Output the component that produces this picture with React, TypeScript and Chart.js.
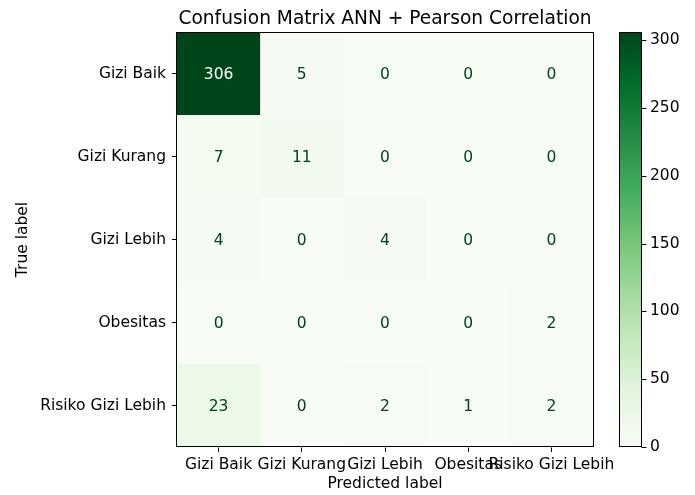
import React, { useEffect, useRef } from "react";
import { Chart, registerables } from "chart.js";

Chart.register(...registerables);

const predictedLabels = ["Gizi Baik", "Gizi Kurang", "Gizi Lebih", "Obesitas", "Risiko Gizi Lebih"];
const trueLabels = ["Gizi Baik", "Gizi Kurang", "Gizi Lebih", "Obesitas", "Risiko Gizi Lebih"];

const rowGiziBaik = [306, 5, 0, 0, 0];
const rowGiziKurang = [7, 11, 0, 0, 0];
const rowGiziLebih = [4, 0, 4, 0, 0];
const rowObesitas = [0, 0, 0, 0, 2];
const rowRisiko = [23, 0, 2, 1, 2];
const matrix = [rowGiziBaik, rowGiziKurang, rowGiziLebih, rowObesitas, rowRisiko];

const colorbarTicks = [0, 50, 100, 150, 200, 250, 300];
const titleText = "Confusion Matrix ANN + Pearson Correlation";

const greens = ["#f7fcf5", "#e5f5e0", "#c7e9c0", "#a1d99b", "#74c476", "#41ab5d", "#238b45", "#006d2c", "#00441b"];

const FONT = "DejaVu Sans";
const FS = 15.5;
const TITLE_FS = 18.6;

function hexToRgb(h: string) {
  return [parseInt(h.slice(1, 3), 16), parseInt(h.slice(3, 5), 16), parseInt(h.slice(5, 7), 16)];
}
function greensColor(t: number) {
  t = Math.max(0, Math.min(1, t));
  const p = t * (greens.length - 1);
  const i = Math.min(greens.length - 2, Math.floor(p));
  const f = p - i;
  const a = hexToRgb(greens[i]);
  const b = hexToRgb(greens[i + 1]);
  const c = a.map((v, k) => Math.round(v + (b[k] - v) * f));
  return `rgb(${c[0]},${c[1]},${c[2]})`;
}

export default function App() {
  const ref = useRef<HTMLCanvasElement>(null);
  useEffect(() => {
    const all = matrix.flat();
    const vmax = Math.max(...all);
    const vmin = Math.min(...all);
    const thresh = (vmax + vmin) / 2;
    const points: any[] = [];
    matrix.forEach((row, i) => row.forEach((v, j) => points.push({ x: j, y: i, v })));

    const plugin = {
      id: "matrix",
      beforeDatasetsDraw(chart: any) {
        const { ctx, scales } = chart;
        const x = scales.x, y = scales.y;
        ctx.save();
        matrix.forEach((row, i) =>
          row.forEach((v, j) => {
            const x0 = x.getPixelForValue(j - 0.5), x1 = x.getPixelForValue(j + 0.5);
            const y0 = y.getPixelForValue(i - 0.5), y1 = y.getPixelForValue(i + 0.5);
            ctx.fillStyle = greensColor((v - vmin) / (vmax - vmin));
            ctx.fillRect(Math.min(x0, x1), Math.min(y0, y1), Math.abs(x1 - x0) + 0.5, Math.abs(y1 - y0) + 0.5);
          })
        );
        ctx.restore();
      },
      afterDraw(chart: any) {
        const { ctx, chartArea, scales } = chart;
        const x = scales.x, y = scales.y, cb = scales.cb;
        ctx.save();
        ctx.font = `${FS}px "${FONT}"`;
        ctx.textAlign = "center";
        ctx.textBaseline = "middle";
        matrix.forEach((row, i) =>
          row.forEach((v, j) => {
            ctx.fillStyle = v < thresh ? greens[8] : greens[0];
            ctx.fillText(String(v), x.getPixelForValue(j), y.getPixelForValue(i) + 1);
          })
        );
        ctx.strokeStyle = "#000";
        ctx.lineWidth = 1;
        ctx.strokeRect(
          Math.round(chartArea.left) - 0.5,
          Math.round(chartArea.top) + 0.5,
          Math.round(chartArea.right - chartArea.left) + 1,
          Math.round(chartArea.bottom - chartArea.top) - 1
        );
        const cbL = chartArea.right + 26;
        const cbR = chartArea.right + 48;
        const yTop = cb.getPixelForValue(vmax);
        const yBot = cb.getPixelForValue(vmin);
        const g = ctx.createLinearGradient(0, yBot, 0, yTop);
        greens.forEach((c, k) => g.addColorStop(k / (greens.length - 1), c));
        ctx.fillStyle = g;
        ctx.fillRect(cbL, yTop, cbR - cbL, yBot - yTop);
        ctx.strokeStyle = "#000";
        ctx.strokeRect(Math.round(cbL) + 0.5, Math.round(yTop) + 0.5, Math.round(cbR - cbL), Math.round(yBot - yTop) - 1);
        ctx.beginPath();
        colorbarTicks.forEach((t) => {
          const py = Math.round(cb.getPixelForValue(t)) + 0.5;
          ctx.moveTo(Math.round(cbR) + 0.5, py);
          ctx.lineTo(Math.round(cbR) + 5.5, py);
        });
        ctx.stroke();
        ctx.fillStyle = "#000";
        ctx.font = `${TITLE_FS}px "${FONT}"`;
        ctx.textAlign = "center";
        ctx.textBaseline = "alphabetic";
        ctx.fillText(titleText, (chartArea.left + chartArea.right) / 2, chartArea.top - 8);
        ctx.restore();
      },
    };

    const tickFont = { family: FONT, size: FS };
    const chart = new Chart(ref.current as HTMLCanvasElement, {
      type: "scatter",
      data: {
        datasets: [{ data: points, pointRadius: 0, pointHoverRadius: 0, backgroundColor: "transparent" } as any],
      },
      options: {
        animation: false,
        responsive: true,
        maintainAspectRatio: false,
        devicePixelRatio: 1,
        layout: { padding: { left: 10, top: 32, right: 0, bottom: 0 } },
        plugins: { legend: { display: false }, tooltip: { enabled: false }, title: { display: false } },
        scales: {
          x: {
            type: "category",
            labels: predictedLabels,
            offset: true,
            position: "bottom",
            border: { display: false },
            grid: { offset: false, drawOnChartArea: false, drawTicks: true, tickLength: 5, color: "#000", tickColor: "#000" },
            ticks: { autoSkip: false, maxRotation: 0, minRotation: 0, padding: 4, color: "#000", font: tickFont },
            title: { display: true, text: "Predicted label", color: "#000", font: tickFont, padding: { top: 0, bottom: 2 } },
            afterFit: (s: any) => { s.height = 48; s.paddingLeft = 0; s.paddingRight = 0; },
          },
          y: {
            type: "category",
            labels: trueLabels,
            offset: true,
            position: "left",
            border: { display: false },
            grid: { offset: false, drawOnChartArea: false, drawTicks: true, tickLength: 5, color: "#000", tickColor: "#000" },
            ticks: { autoSkip: false, padding: 6, color: "#000", font: tickFont },
            title: { display: true, text: "True label", color: "#000", font: tickFont, padding: { top: 4, bottom: 0 } },
            afterFit: (s: any) => { s.width = 167; s.paddingTop = 0; s.paddingBottom = 0; },
          },
          cb: {
            type: "linear",
            position: "right",
            min: 0,
            max: 306,
            border: { display: false },
            grid: { display: true, drawOnChartArea: false, drawTicks: true, tickLength: 53, color: "transparent", tickColor: "transparent" },
            ticks: { padding: 4, color: "#000", font: tickFont },
            afterBuildTicks: (s: any) => { s.ticks = colorbarTicks.map((v) => ({ value: v })); },
            afterFit: (s: any) => { s.width = 102; s.paddingTop = 0; s.paddingBottom = 0; },
          },
        },
      } as any,
      plugins: [plugin],
    });
    return () => chart.destroy();
  }, []);

  return (
    <div style={{ position: "fixed", left: 0, top: 0, width: 695, height: 495, background: "#fff" }}>
      <canvas ref={ref} />
    </div>
  );
}
